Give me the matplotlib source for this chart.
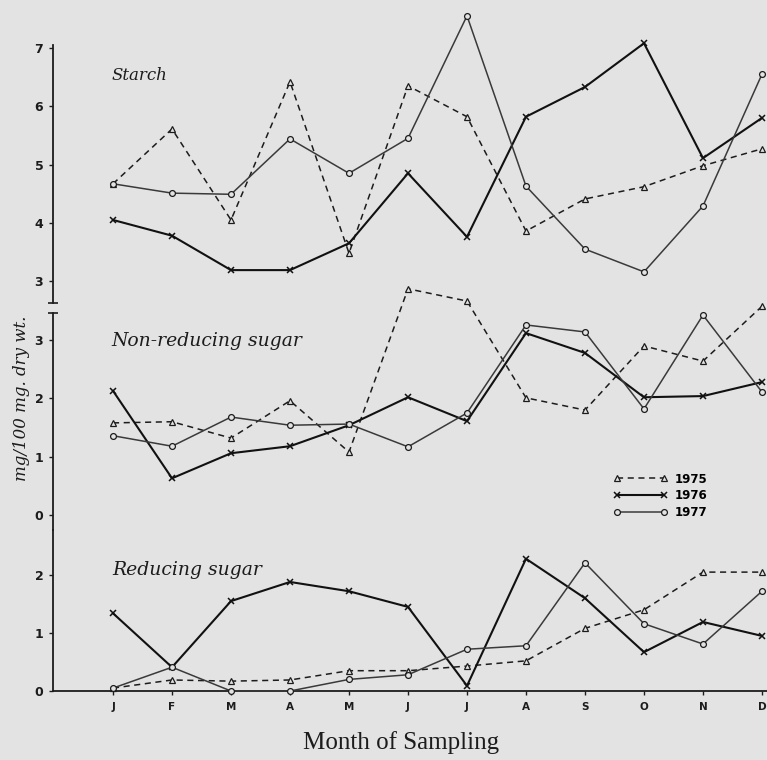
import numpy as np
import matplotlib.pyplot as plt
from matplotlib.lines import Line2D

# month labels along the bottom
months = ['J', 'F', 'M', 'A', 'M', 'J', 'J', 'A', 'S', 'O', 'N', 'D']
years = ['1975', '1976', '1977']

# starch (mg/100 mg dry wt)
starch_1975 = [4.67, 5.61, 4.05, 6.42, 3.48, 6.35, 5.82, 3.86, 4.41, 4.62, 4.98, 5.27]
starch_1976 = [4.05, 3.78, 3.19, 3.19, 3.65, 4.85, 3.76, 5.82, 6.33, 7.08, 5.11, 5.80]
starch_1977 = [4.67, 4.51, 4.49, 5.44, 4.85, 5.45, 7.55, 4.63, 3.55, 3.16, 4.29, 6.55]

# non-reducing sugar
nonred_1975 = [1.58, 1.60, 1.32, 1.96, 1.08, 3.88, 3.67, 2.01, 1.80, 2.90, 2.64, 3.58]
nonred_1976 = [2.13, 0.63, 1.06, 1.18, 1.54, 2.02, 1.61, 3.12, 2.78, 2.02, 2.04, 2.28]
nonred_1977 = [1.36, 1.18, 1.68, 1.54, 1.56, 1.17, 1.75, 3.26, 3.14, 1.82, 3.43, 2.11]

# reducing sugar
red_1975 = [0.05, 0.19, 0.17, 0.19, 0.35, 0.35, 0.43, 0.52, 1.08, 1.40, 2.05, 2.05]
red_1976 = [1.34, 0.41, 1.55, 1.88, 1.72, 1.45, 0.09, 2.28, 1.60, 0.67, 1.19, 0.95]
red_1977 = [0.05, 0.41, 0.00, 0.00, 0.20, 0.28, 0.72, 0.78, 2.21, 1.16, 0.81, 1.72]

bg = '#e3e3e3'
ink = '#1c1c1c'

styles = {
    '1975': dict(ls=(0, (4, 3)), lw=1.1, marker='^', ms=4.2, mfc=bg, mec=ink, mew=0.9, color=ink),
    '1976': dict(ls='-', lw=1.5, marker='x', ms=4, mew=1.1, color='#111111'),
    '1977': dict(ls='-', lw=1.1, marker='o', ms=4.2, mfc=bg, mec=ink, mew=0.9, color='#3a3a3a'),
}

x = np.arange(len(months))

fig = plt.figure(figsize=(7.67, 7.60), dpi=100, facecolor=bg)

left, width = 53 / 767, 714 / 767
ax_s = fig.add_axes([left, (760 - 303) / 760, width, 258 / 760])
ax_n = fig.add_axes([left, (760 - 530) / 760, width, 217 / 760])
ax_r = fig.add_axes([left, (760 - 691) / 760, width, 161 / 760])

panels = [
    (ax_s, [starch_1975, starch_1976, starch_1977], (2.626, 7.05), [3, 4, 5, 6, 7]),
    (ax_n, [nonred_1975, nonred_1976, nonred_1977], (-0.257, 3.465), [0, 1, 2, 3]),
    (ax_r, [red_1975, red_1976, red_1977], (0, 2.776), [0, 1, 2]),
]

for ax, series, ylim, yt in panels:
    ax.set_facecolor('none')
    for yr, vals in zip(years, series):
        ax.plot(x, vals, clip_on=False, zorder=3, **styles[yr])
    ax.set_xlim(-1.017, 11.085)
    ax.set_ylim(*ylim)
    ax.set_yticks(yt)
    ax.set_yticklabels([str(v) for v in yt], fontsize=9, fontweight='bold', color=ink)
    ax.tick_params(axis='y', direction='out', length=3, width=1, color=ink, pad=4)
    for s in ['top', 'right', 'bottom']:
        ax.spines[s].set_visible(False)
    ax.spines['left'].set_color(ink)
    ax.spines['left'].set_linewidth(1.3)
    if ax is not ax_r:
        ax.set_xticks([])

# little caps where the starch axis is broken off
ax_s.set_yticks([ax_s.get_ylim()[0]], minor=True)
ax_n.set_yticks([ax_n.get_ylim()[1]], minor=True)
for ax in (ax_s, ax_n):
    ax.tick_params(axis='y', which='minor', direction='inout', length=7, width=1.2, color=ink)

# panel titles, in the handwritten style of the original
ax_s.text(-0.02, 6.45, 'Starch', fontsize=12, family='DejaVu Serif', style='italic', color=ink)
ax_n.text(-0.02, 2.9, 'Non-reducing sugar', fontsize=13.5, family='DejaVu Serif', style='italic', color=ink)
ax_r.text(-0.02, 2.0, 'Reducing sugar', fontsize=13.5, family='DejaVu Serif', style='italic', color=ink)

ax_r.spines['bottom'].set_visible(True)
ax_r.spines['bottom'].set_color(ink)
ax_r.spines['bottom'].set_linewidth(1.3)
ax_r.set_xticks(x)
ax_r.set_xticklabels(months, fontsize=7.5, fontweight='bold', color=ink)
ax_r.tick_params(axis='x', direction='out', length=3, width=1, color=ink, pad=5)

# legend on the middle panel
handles = [Line2D([0], [0], **styles[yr]) for yr in years]
fig.legend(handles, years, loc='upper left', bbox_to_anchor=(603 / 767, 1 - 462 / 760),
           frameon=False, numpoints=2, handlelength=4.6, handletextpad=0.6,
           labelspacing=0.3, prop=dict(size=8.5, weight='bold'))

fig.text(22 / 767, 1 - 398 / 760, 'mg/100 mg. dry wt.', rotation=90, ha='center', va='center',
         fontsize=12, family='DejaVu Serif', style='italic', color=ink)
fig.text(401 / 767, 1 - 743 / 760, 'Month of Sampling', ha='center', va='center',
         fontsize=18, family='Liberation Serif', color=ink)

fig.savefig('out.png', dpi=100, facecolor=bg)
